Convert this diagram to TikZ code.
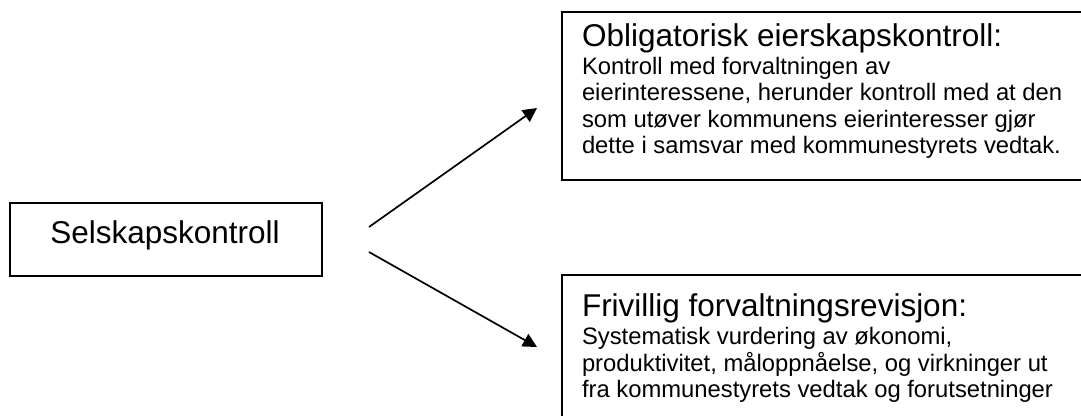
\documentclass[tikz,border=0pt]{standalone}
\usepackage{fontspec}
\setmainfont{Liberation Sans}
\usetikzlibrary{arrows.meta}
\tikzset{
  frame/.style={draw=black, line width=1.8pt, rectangle, inner sep=0pt},
  titlefont/.style={font=\fontsize{31.5}{36}\selectfont},
  txt/.style={inner sep=0pt, outer sep=0pt},
  conn/.style={draw=black, line width=1.7pt, -{Triangle[length=14pt,width=14pt]}}
}
\begin{document}
\begin{tikzpicture}[x=1pt,y=-1pt]
\useasboundingbox (0,0) rectangle (1081,415);
\clip (0,0) rectangle (1081,415);
% left box
\node[frame, minimum width=312pt, minimum height=73pt] (sel) at (166,239.5) {};
\node[txt, titlefont, anchor=base] (seltxt) at (165,243) {Selskapskontroll};
% right boxes (extend beyond picture)
\node[frame, minimum width=540pt, minimum height=168pt] (ob) at (832,96) {};
\node[frame, minimum width=540pt, minimum height=170pt] (fr) at (832,360) {};
% texts
\node[txt, titlefont, anchor=base west] (obt) at (582,46.7) {Obligatorisk eierskapskontroll:};
\node[txt, anchor=base west, font=\fontsize{23.8}{26.6}\selectfont] (obb) at (582,74)
  {\begin{tabular}[t]{@{}l@{}}Kontroll med forvaltningen av\\
   eierinteressene, herunder kontroll med at den\\
   som utøver kommunens eierinteresser gjør\\
   dette i samsvar med kommunestyrets vedtak.\end{tabular}};
\node[txt, titlefont, anchor=base west] (frt) at (582,316.7) {Frivillig forvaltningsrevisjon:};
\node[txt, anchor=base west, font=\fontsize{23.8}{26.6}\selectfont] (frb) at (582,344)
  {\begin{tabular}[t]{@{}l@{}}Systematisk vurdering av økonomi,\\
   produktivitet, måloppnåelse, og virkninger ut\\
   fra kommunestyrets vedtak og forutsetninger\end{tabular}};
% arrows
\coordinate (a1s) at (369,227);
\coordinate (a1e) at (537,108);
\coordinate (a2s) at (369,252);
\coordinate (a2e) at (537,347);
\draw[conn] (a1s) -- (a1e);
\draw[conn] (a2s) -- (a2e);
\end{tikzpicture}
\end{document}
